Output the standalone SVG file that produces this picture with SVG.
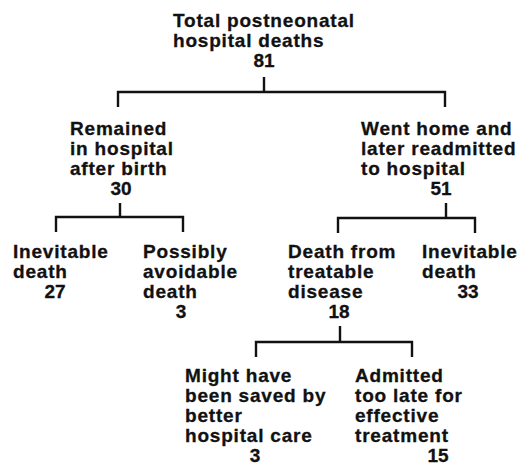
<svg xmlns="http://www.w3.org/2000/svg" width="519" height="464" viewBox="0 0 519 464">
<style>
text{font-family:"Liberation Sans",Arial,Helvetica,sans-serif;font-weight:bold;font-size:19px;letter-spacing:0.8px;fill:#111;stroke:#111;stroke-width:0.3}
.n{text-anchor:middle;letter-spacing:0}
.c{fill:none;stroke:#111;stroke-width:2.4}
</style>
<rect width="519" height="464" fill="#fff"/>
<g id="connectors">
<path class="c" d="M264,77V92M118,107V92H445V107"/>
<path class="c" d="M120,203V217M56,232V217H183V232"/>
<path class="c" d="M446,203V218M338,233V218H475V233"/>
<path class="c" d="M340,326V342M256,357V342H412V357"/>
</g>
<g id="total">
<text x="173" y="27">Total postneonatal</text>
<text x="173" y="47">hospital deaths</text>
<text class="n" x="264" y="67">81</text>
</g>
<g id="remained">
<text x="70" y="135">Remained</text>
<text x="70" y="155">in hospital</text>
<text x="70" y="175">after birth</text>
<text class="n" x="121" y="195">30</text>
</g>
<g id="wenthome">
<text x="361" y="135">Went home and</text>
<text x="361" y="155">later readmitted</text>
<text x="361" y="175">to hospital</text>
<text class="n" x="441" y="195">51</text>
</g>
<g id="inevitable1">
<text x="13" y="258">Inevitable</text>
<text x="13" y="278">death</text>
<text class="n" x="55" y="298">27</text>
</g>
<g id="avoidable">
<text x="143" y="258">Possibly</text>
<text x="143" y="278">avoidable</text>
<text x="143" y="298">death</text>
<text class="n" x="181" y="318">3</text>
</g>
<g id="treatable">
<text x="288" y="258">Death from</text>
<text x="288" y="278">treatable</text>
<text x="288" y="298">disease</text>
<text class="n" x="339" y="318">18</text>
</g>
<g id="inevitable2">
<text x="422" y="258">Inevitable</text>
<text x="422" y="278">death</text>
<text class="n" x="468" y="298">33</text>
</g>
<g id="saved">
<text x="185" y="382">Might have</text>
<text x="185" y="402">been saved by</text>
<text x="185" y="422">better</text>
<text x="185" y="442">hospital care</text>
<text class="n" x="255" y="462">3</text>
</g>
<g id="toolate">
<text x="355" y="382">Admitted</text>
<text x="355" y="402">too late for</text>
<text x="355" y="422">effective</text>
<text x="355" y="442">treatment</text>
<text class="n" x="438" y="462">15</text>
</g>
</svg>
